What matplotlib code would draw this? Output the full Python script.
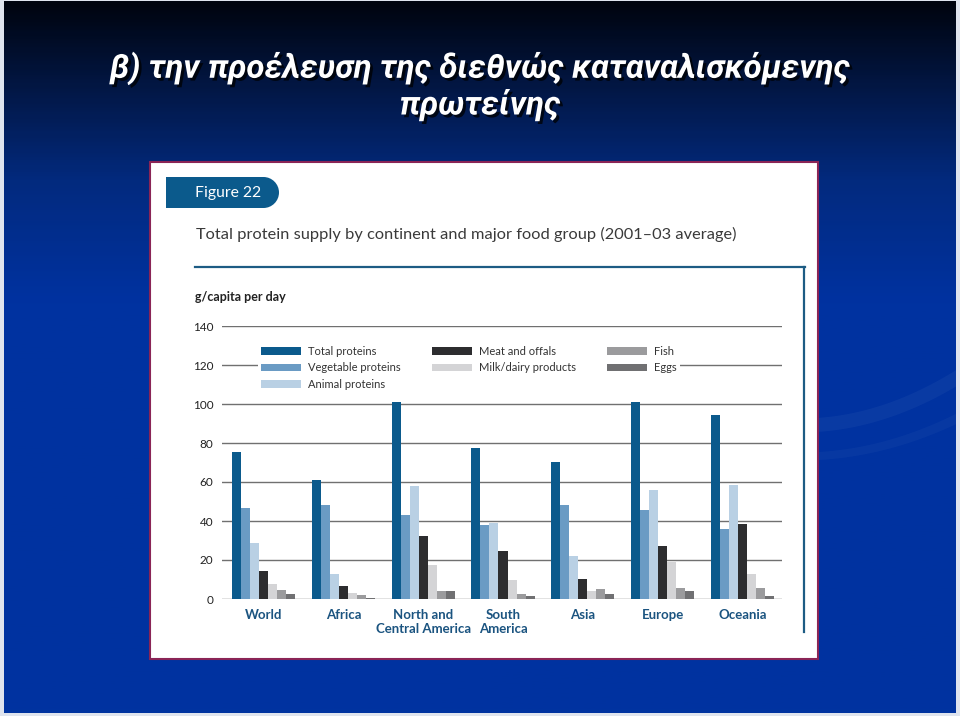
import numpy as np
import matplotlib
matplotlib.use('Agg')
import matplotlib.pyplot as plt
import matplotlib.patheffects as pe
from matplotlib import font_manager
from matplotlib.colors import LinearSegmentedColormap
from matplotlib.patches import Rectangle, PathPatch
from matplotlib.path import Path

# data (g/capita per day, 2001-03 average)
regions = ['World', 'Africa', 'North and\nCentral America', 'South\nAmerica',
           'Asia', 'Europe', 'Oceania']
total_proteins = [75.5, 61.0, 101.0, 77.3, 70.1, 101.0, 94.4]
vegetable_proteins = [46.7, 48.4, 42.9, 38.0, 48.4, 45.5, 35.9]
animal_proteins = [28.7, 13.0, 58.1, 39.0, 22.2, 55.7, 58.5]
meat_offals = [14.5, 6.5, 32.5, 24.8, 10.1, 27.3, 38.5]
milk_dairy = [7.5, 3.2, 17.6, 9.7, 4.3, 19.0, 13.0]
fish = [4.5, 2.2, 4.3, 2.7, 5.1, 5.8, 5.8]
eggs = [2.6, 0.7, 3.9, 1.7, 2.7, 3.9, 1.7]

series_labels = ['Total proteins', 'Vegetable proteins', 'Animal proteins',
                 'Meat and offals', 'Milk/dairy products', 'Fish', 'Eggs']
series_colors = ['#0b5a8c', '#6a9bc4', '#b9d0e4', '#2d2d2f', '#d4d4d6',
                 '#9b9b9d', '#707072']
yticks = [0, 20, 40, 60, 80, 100, 120, 140]

title_lines = ['β) την προέλευση της διεθνώς καταναλισκόμενης', 'πρωτείνης']

available = {f.name for f in font_manager.fontManager.ttflist}
if 'Liberation Sans Narrow' in available:
    title_font = 'Liberation Sans Narrow'
elif 'Roboto' in available:
    title_font = 'Roboto'
else:
    title_font = 'Liberation Sans'
inner_font = 'Lato'

fig = plt.figure(figsize=(9.6, 7.16), dpi=100)
fig.patch.set_facecolor('#dfe4ee')

# background axes in pixel coordinates
bg = fig.add_axes([0, 0, 1, 1])
bg.set_xlim(0, 960)
bg.set_ylim(716, 0)
bg.axis('off')

cmap = LinearSegmentedColormap.from_list('slide', [
    (0.0, '#00040f'), (0.1, '#02143c'), (0.25, '#032a7e'),
    (0.42, '#0032a0'), (1.0, '#0033a0')])
grad = np.linspace(0, 1, 300).reshape(-1, 1)
bg.imshow(grad, cmap=cmap, extent=[4, 956, 713, 1], aspect='auto', zorder=0)

# faint swooshes on the right
xs = np.linspace(800, 956, 60)
bg.fill_between(xs, 418 - 0.0020 * (xs - 800) ** 2, 432 - 0.0019 * (xs - 800) ** 2,
                color='white', alpha=0.04, lw=0, zorder=1)
bg.fill_between(xs, 452 - 0.0016 * (xs - 800) ** 2, 460 - 0.0015 * (xs - 800) ** 2,
                color='white', alpha=0.03, lw=0, zorder=1)

# title
fx = [pe.withSimplePatchShadow(offset=(2, -2), shadow_rgbFace='black', alpha=0.75)]
t1 = bg.text(480, 68, title_lines[0], ha='center', va='center', color='white',
             fontsize=26, fontweight='bold', fontstyle='italic', family=title_font,
             path_effects=fx, zorder=3)
t2 = bg.text(480, 105, title_lines[1], ha='center', va='center', color='white',
             fontsize=26, fontweight='bold', fontstyle='italic', family=title_font,
             path_effects=fx, zorder=3)
fig.canvas.draw()
tw = t1.get_window_extent(fig.canvas.get_renderer()).width
fs = 26 * 740 / tw
t1.set_fontsize(fs)
t2.set_fontsize(fs)

# white panel
bg.add_patch(Rectangle((150, 162), 668, 497, facecolor='white',
                       edgecolor='#8a2456', lw=1.5, zorder=2))

# "Figure 22" tab with rounded right end
tab = Path([(166, 177), (263.5, 177), (272, 177), (279, 184), (279, 192.5),
            (279, 201), (272, 208), (263.5, 208), (166, 208), (166, 177)],
           [Path.MOVETO, Path.LINETO, Path.CURVE4, Path.CURVE4, Path.CURVE4,
            Path.CURVE4, Path.CURVE4, Path.CURVE4, Path.LINETO, Path.CLOSEPOLY])
bg.add_patch(PathPatch(tab, facecolor='#0b5a8c', edgecolor='none', zorder=3))
bg.text(195, 193, 'Figure 22', ha='left', va='center', color='white',
        fontsize=11.3, family=inner_font, zorder=4)
bg.text(196, 234, 'Total protein supply by continent and major food group (2001–03 average)',
        ha='left', va='center', color='#3a3a3a', fontsize=11.8, family=inner_font, zorder=4)
bg.text(195, 297, 'g/capita per day', ha='left', va='center', color='#222222',
        fontsize=9, fontweight='bold', family=inner_font, zorder=4)

# frame lines
bg.plot([195, 805], [267, 267], color='#1d5c84', lw=1.6, zorder=4)
bg.plot([804, 804], [267, 632], color='#1d5c84', lw=1.6, zorder=4)

# chart
ax = fig.add_axes([222 / 960, 1 - 599 / 716, 560 / 960, 273 / 716])
ax.set_facecolor('white')
x = np.arange(len(regions))
w = 0.1128
all_series = [total_proteins, vegetable_proteins, animal_proteins, meat_offals,
              milk_dairy, fish, eggs]
for k, (vals, color, label) in enumerate(zip(all_series, series_colors, series_labels)):
    ax.bar(x + (k - 3) * w, vals, w, color=color, label=label, lw=0, zorder=2)

ax.set_xlim(-0.52, 6.495)
ax.set_ylim(0, 140)
ax.set_yticks(yticks)
ax.set_yticklabels([str(v) for v in yticks], fontsize=8.5, color='#222222', family=inner_font)
ax.yaxis.grid(True, color='#707070', lw=1.0)
ax.set_axisbelow(True)
ax.set_xticks(x)
ax.set_xticklabels(regions, fontsize=9.5, fontweight='bold', color='#1b5480',
                   family=inner_font, linespacing=1.25)
ax.tick_params(axis='both', length=0)
ax.tick_params(axis='y', pad=6.3)
ax.tick_params(axis='x', pad=7)
for s in ax.spines.values():
    s.set_visible(False)

leg = ax.legend(ncol=3, loc='upper left', bbox_to_anchor=(258, 342.5),
                bbox_transform=bg.transData, frameon=True, fancybox=False,
                facecolor='white', edgecolor='none', framealpha=1,
                prop={'family': inner_font, 'size': 8}, borderpad=0.3,
                handlelength=3.6, handleheight=0.65, handletextpad=0.63,
                columnspacing=2.8, labelspacing=0.49, borderaxespad=0)
for t in leg.get_texts():
    t.set_color('#333333')

fig.savefig('out.png', dpi=100)
